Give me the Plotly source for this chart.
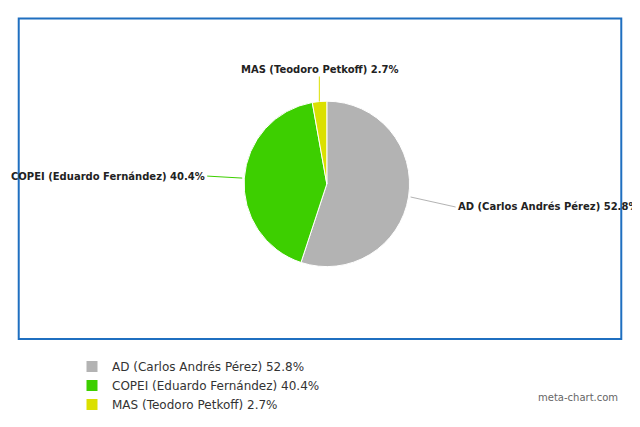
import math
import plotly.graph_objects as go

labels = ["AD (Carlos Andrés Pérez) 52.8%", "COPEI (Eduardo Fernández) 40.4%", "MAS (Teodoro Petkoff) 2.7%"]
values = [52.8, 40.4, 2.7]
colors = ["#b3b3b3", "#3dcf00", "#dbe000"]

W, H = 640, 427
cx, cy, r = 327, 185, 87

fig = go.Figure(go.Pie(
    labels=labels, values=values, sort=False, direction="clockwise", rotation=0,
    marker=dict(colors=colors, line=dict(color="white", width=1)),
    textinfo="none", hoverinfo="label",
    domain=dict(x=[(cx - r) / W, (cx + r) / W], y=[(H - cy - r) / H, (H - cy + r) / H]),
))

total = sum(values)
offsets = [(45, 10, "left"), (-35, -2, "right"), (0, -25, "center")]
ann = []
cum = 0
for i, (lab, v, (dx, dy, al)) in enumerate(zip(labels, values, offsets)):
    mid = (cum + v / 2) / total * 2 * math.pi
    cum += v
    px = cx + r * math.sin(mid)
    py = cy - r * math.cos(mid)
    ann.append(dict(x=px / W, y=1 - py / H, xref="paper", yref="paper",
                    ax=dx, ay=dy, showarrow=True, arrowhead=0, arrowwidth=1,
                    arrowcolor=colors[i],
                    text="<b>" + lab + "</b>", xanchor=al,
                    yanchor="bottom" if al == "center" else "middle",
                    font=dict(size=10, color="#222")))
ann.append(dict(x=628 / W, y=1 - 418 / H, xref="paper", yref="paper", showarrow=False,
                text="meta-chart.com", xanchor="right", font=dict(size=10, color="#666")))

fig.update_layout(
    autosize=True, margin=dict(l=0, r=0, t=0, b=0),
    paper_bgcolor="white", plot_bgcolor="white",
    font=dict(family="DejaVu Sans", size=12, color="#333"),
    annotations=ann,
    shapes=[dict(type="rect", xref="paper", yref="paper", x0=11 / W, x1=629 / W,
                 y0=1 - 348 / H, y1=1 - 11 / H, line=dict(color="#1f6fc0", width=2))],
    legend=dict(orientation="h", x=76 / W, y=1 - 362 / H, xanchor="left", yanchor="top",
                entrywidth=240, font=dict(size=12, color="#333"), traceorder="normal"),
)
fig.write_html("out.html", default_width="100%", default_height="100%")
